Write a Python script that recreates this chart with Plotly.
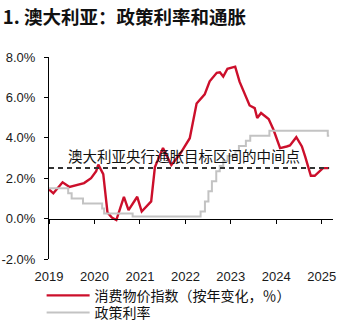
import plotly.graph_objects as go

# CPI (YoY, %)
cpi_dates = [
    "2019-01-01", "2019-02-05", "2019-04-20", "2019-06-15", "2019-10-10", "2019-12-05",
    "2020-01-15", "2020-02-01", "2020-03-12", "2020-04-15", "2020-05-20", "2020-06-25",
    "2020-08-25", "2020-10-01", "2020-12-10", "2021-01-15", "2021-04-01", "2021-05-01",
    "2021-07-05", "2021-09-10", "2021-11-15", "2022-01-05", "2022-02-05", "2022-04-01",
    "2022-06-05", "2022-07-15", "2022-09-10", "2022-10-05", "2022-11-01", "2022-12-05",
    "2023-02-05", "2023-03-12", "2023-04-20", "2023-06-01", "2023-07-12", "2023-08-01",
    "2023-09-01", "2023-11-01", "2023-12-10", "2024-02-01", "2024-03-25", "2024-04-20",
    "2024-06-10", "2024-07-25", "2024-08-20", "2024-10-05", "2024-11-05", "2025-01-10",
    "2025-02-25",
]
cpi_values = [
    1.45, 1.25, 1.80, 1.57, 1.76, 2.00,
    2.35, 2.67, 2.20, 0.30, 0.05, -0.07,
    1.08, 0.42, 1.08, 0.35, 0.85, 2.55,
    3.50, 2.65, 3.16, 3.65, 3.98, 5.70,
    6.15, 6.80, 7.22, 7.24, 7.03, 7.42,
    7.52, 6.78, 6.20, 5.60, 5.47, 4.98,
    5.23, 4.93, 4.40, 3.49, 3.57, 3.62,
    4.03, 3.57, 3.08, 2.12, 2.12, 2.50,
    2.50,
]

# RBA cash rate (%) – change dates
rate_dates = [
    "2019-01-01", "2019-06-04", "2019-07-02", "2019-10-01", "2020-03-03", "2020-03-19",
    "2020-11-03", "2022-05-03", "2022-06-07", "2022-07-05", "2022-08-02", "2022-09-06",
    "2022-10-04", "2022-11-01", "2022-12-06", "2023-02-07", "2023-03-07", "2023-05-02",
    "2023-06-06", "2023-11-07", "2025-02-18", "2025-03-01",
]
rate_values = [
    1.50, 1.25, 1.00, 0.75, 0.50, 0.25,
    0.10, 0.35, 0.85, 1.35, 1.85, 2.35,
    2.60, 2.85, 3.10, 3.35, 3.60, 3.85,
    4.10, 4.35, 4.10, 4.10,
]

target_mid = 2.5
target_dates = ["2019-01-01", "2025-03-01"]

title_text = "1. 澳大利亚：政策利率和通胀"
target_label = "澳大利亚央行通胀目标区间的中间点"
cpi_name = "消费物价指数（按年变化，％）"
rate_name = "政策利率"

y_ticks = [-2, 0, 2, 4, 6, 8]
x_range = ["2019-01-01", "2025-04-01"]

CJK = "Noto Sans CJK SC"
LAT = "Liberation Sans, Arial"

fig = go.Figure()
fig.add_trace(go.Scatter(
    x=cpi_dates, y=cpi_values, mode="lines", name=cpi_name, legend="legend",
    line=dict(color="#CC0F2B", width=2.4),
))
fig.add_trace(go.Scatter(
    x=rate_dates, y=rate_values, mode="lines", name=rate_name, legend="legend2",
    line=dict(color="#C3C3C3", width=2, shape="hv"),
))
fig.add_trace(go.Scatter(
    x=target_dates, y=[target_mid, target_mid], mode="lines", showlegend=False,
    line=dict(color="#333333", width=2, dash="5px,4px"), xaxis="x2",
))

fig.add_annotation(
    x="2021-12-20", y=target_mid, xref="x", yref="y", text=target_label,
    showarrow=False, yanchor="bottom", yshift=0,
    font=dict(family=CJK, size=14.5, color="#111111"),
)

legend_common = dict(xanchor="left", yanchor="middle",
                     font=dict(family=CJK, size=14, color="#111111"),
                     itemwidth=43, tracegroupgap=0, bgcolor="rgba(0,0,0,0)")

fig.update_layout(
    width=347, height=322,
    margin=dict(l=49, r=14, t=57, b=63, autoexpand=False),
    paper_bgcolor="white", plot_bgcolor="white",
    title=dict(text="<b>" + title_text + "</b>", x=0.008, xanchor="left",
               y=1 - 18 / 322, yanchor="middle",
               font=dict(family=CJK, size=18.5, color="#111111")),
    showlegend=True,
    legend=dict(x=-0.026, y=-0.182, **legend_common),
    legend2=dict(x=-0.026, y=-0.267, **legend_common),
    xaxis=dict(range=x_range, type="date", tickformat="%Y", dtick="M12",
               tick0="2019-01-01", showgrid=False, showline=False, zeroline=False,
               ticks="outside", ticklen=5, tickcolor="rgba(0,0,0,0)",
               tickfont=dict(family=LAT, size=13, color="#1a1a1a")),
    xaxis2=dict(matches="x", overlaying="x", anchor="free", position=0.2,
                type="date", dtick="M12", tick0="2019-01-01", showgrid=False,
                showline=True, linecolor="#000000", linewidth=1, zeroline=False,
                ticks="outside", ticklen=4, tickcolor="#000000", showticklabels=False),
    yaxis=dict(range=[-2, 8], tickvals=y_ticks, ticktext=[f"{v:.1f}%" for v in y_ticks],
               showgrid=False, zeroline=False, showline=True, linecolor="#000000",
               linewidth=1, ticks="outside", ticklen=4, tickcolor="#000000",
               ticklabelstandoff=6,
               tickfont=dict(family=LAT, size=13, color="#1a1a1a")),
)

fig.write_html("out.html")
